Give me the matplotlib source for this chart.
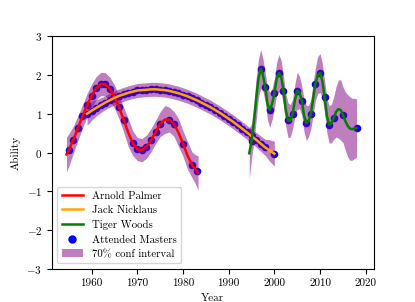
import numpy as np
import matplotlib
matplotlib.use('Agg')
import matplotlib.pyplot as plt
from matplotlib.lines import Line2D
from matplotlib.patches import Patch
from matplotlib.ticker import FuncFormatter

plt.rcParams['font.family'] = 'cmr10'
plt.rcParams['mathtext.fontset'] = 'cm'
plt.rcParams['axes.formatter.use_mathtext'] = True
plt.rcParams['font.size'] = 8

# GP mean curves
palmer_t = [1954.5, 1955, 1956, 1957, 1958, 1959, 1960, 1961, 1962, 1963, 1964,
            1965, 1966, 1967, 1968, 1969, 1970, 1971, 1972, 1973, 1974, 1975,
            1976, 1977, 1978, 1979, 1980, 1981, 1982, 1983, 1983.3]
palmer_mu = [-0.05, 0.06, 0.33, 0.63, 0.93, 1.22, 1.47, 1.66, 1.77, 1.76, 1.64,
             1.44, 1.17, 0.85, 0.52, 0.24, 0.09, 0.06, 0.15, 0.32, 0.53, 0.73,
             0.85, 0.85, 0.74, 0.52, 0.23, -0.08, -0.32, -0.48, -0.53]
palmer_sd = [0.45, 0.42, 0.35, 0.32, 0.3, 0.3, 0.3, 0.3, 0.3, 0.3, 0.3,
             0.3, 0.3, 0.32, 0.36, 0.32, 0.3, 0.3, 0.3, 0.3, 0.3, 0.32,
             0.36, 0.32, 0.32, 0.36, 0.33, 0.36, 0.33, 0.4, 0.45]
palmer_years = [1955, 1956, 1957, 1958, 1959, 1960, 1961, 1962, 1963, 1964, 1965,
                1966, 1967, 1969, 1970, 1971, 1972, 1973, 1974, 1975, 1977, 1978,
                1980, 1982, 1983]

nicklaus_t = list(range(1959, 2001))
nicklaus_mu = [1.0, 1.08, 1.15, 1.22, 1.29, 1.35, 1.41, 1.46, 1.5, 1.54, 1.57,
               1.6, 1.61, 1.62, 1.63, 1.63, 1.62, 1.61, 1.59, 1.56, 1.53, 1.49,
               1.45, 1.4, 1.35, 1.29, 1.23, 1.17, 1.1, 1.03, 0.95, 0.87, 0.79,
               0.7, 0.61, 0.52, 0.42, 0.33, 0.23, 0.13, 0.05, -0.03]
nicklaus_sd = [0.3, 0.25, 0.21, 0.19, 0.18, 0.18, 0.18, 0.18, 0.18, 0.18, 0.18,
               0.18, 0.18, 0.18, 0.18, 0.18, 0.18, 0.18, 0.18, 0.18, 0.18, 0.18,
               0.18, 0.18, 0.18, 0.18, 0.18, 0.18, 0.18, 0.18, 0.18, 0.18, 0.18,
               0.18, 0.18, 0.18, 0.18, 0.19, 0.2, 0.21, 0.28, 0.32]
nicklaus_years = list(range(1959, 1999)) + [2000]

woods_t = [1994.5, 1995, 1995.5, 1996, 1996.5, 1997, 1997.5, 1998, 1998.5, 1999,
           1999.5, 2000, 2000.5, 2001, 2001.5, 2002, 2002.5, 2003, 2003.5, 2004,
           2004.5, 2005, 2005.5, 2006, 2006.5, 2007, 2007.5, 2008, 2008.5, 2009,
           2009.5, 2010, 2010.5, 2011, 2011.5, 2012, 2012.5, 2013, 2013.5, 2014,
           2014.5, 2015, 2015.5, 2016, 2016.5, 2017, 2017.5, 2018]
woods_mu = [-0.02, 0.29, 0.75, 1.35, 1.9, 2.16, 2.0, 1.69, 1.25, 1.1,
            1.25, 1.53, 1.9, 2.05, 1.95, 1.59, 1.1, 0.83, 0.82, 1.0,
            1.35, 1.59, 1.55, 1.34, 0.95, 0.76, 0.82, 1.0, 1.4, 1.78,
            2.0, 2.05, 1.85, 1.43, 0.95, 0.72, 0.75, 0.89, 1.05, 1.12,
            1.1, 0.98, 0.82, 0.7, 0.62, 0.6, 0.62, 0.63]
woods_sd = [0.65, 0.45, 0.5, 0.55, 0.5, 0.5, 0.42, 0.38, 0.42, 0.45,
            0.4, 0.38, 0.42, 0.48, 0.42, 0.38, 0.42, 0.45, 0.42, 0.38,
            0.42, 0.48, 0.42, 0.38, 0.42, 0.45, 0.4, 0.38, 0.42, 0.42,
            0.48, 0.5, 0.45, 0.42, 0.45, 0.48, 0.5, 0.55, 0.65, 0.75,
            0.78, 0.72, 0.75, 0.8, 0.82, 0.8, 0.78, 0.75]
woods_years = [1995] + list(range(1997, 2014)) + [2015, 2018]

players = [
    ('Arnold Palmer', 'red', palmer_t, palmer_mu, palmer_sd, palmer_years),
    ('Jack Nicklaus', 'orange', nicklaus_t, nicklaus_mu, nicklaus_sd, nicklaus_years),
    ('Tiger Woods', 'green', woods_t, woods_mu, woods_sd, woods_years),
]

fig, ax = plt.subplots(figsize=(4.15, 3.02), dpi=100)

for name, col, t, mu, sd, yrs in players:
    t = np.array(t)
    mu = np.array(mu)
    sd = np.array(sd)
    ax.scatter(yrs, np.interp(yrs, t, mu), s=30, color='blue', zorder=1, linewidths=0)
    ax.fill_between(t, mu - sd, mu + sd, color='purple', alpha=0.5, linewidth=0, zorder=2)
    ax.plot(t, mu, color=col, lw=1.8, zorder=3)

handles = [
    Line2D([], [], color='red', lw=1.8),
    Line2D([], [], color='orange', lw=1.8),
    Line2D([], [], color='green', lw=1.8),
    Line2D([], [], color='blue', marker='o', ls='', markersize=5),
    Patch(facecolor='purple', alpha=0.5, linewidth=0),
]
labels = ['Arnold Palmer', 'Jack Nicklaus', 'Tiger Woods', 'Attended Masters',
          '70% conf interval']
ax.legend(handles, labels, loc='lower left', fontsize=7.8, labelspacing=0.45)

ax.set_xlim(1951.3, 2021.7)
ax.set_ylim(-3, 3)
ax.set_xticks([1960, 1970, 1980, 1990, 2000, 2010, 2020])
ax.xaxis.set_major_formatter(FuncFormatter(lambda v, p: '%d' % v))
ax.tick_params(labelsize=8)
ax.set_xlabel('Year')
ax.set_ylabel('Ability')

plt.savefig('out.png')
